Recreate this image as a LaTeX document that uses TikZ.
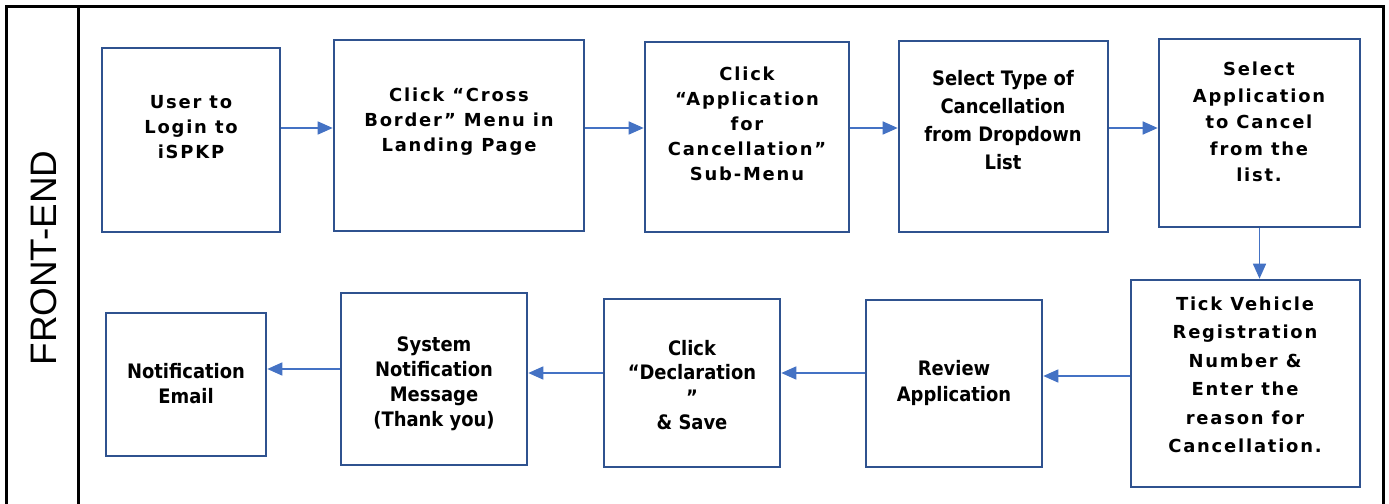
\documentclass[tikz,border=0pt]{standalone}
\usepackage{fontspec}
\usetikzlibrary{arrows.meta}
\newfontfamily\widefont[LetterSpace=10]{DejaVu Sans}
\newfontfamily\condfont{DejaVu Sans Condensed}
\newfontfamily\lanefont{Liberation Sans}
\definecolor{boxblue}{RGB}{47,82,143}
\definecolor{arrblue}{RGB}{68,114,196}
\tikzset{
  box/.style={draw=boxblue, line width=2.6bp, fill=white, inner sep=0pt},
  wtext/.style={align=center, text=black, inner sep=0pt, font={\widefont\bfseries\fontsize{18}{25}\selectfont}},
  ctext/.style={align=center, text=black, inner sep=0pt, font={\condfont\bfseries\fontsize{20}{25}\selectfont}},
  arr/.style={draw=arrblue, line width=1.6bp, -{Triangle[length=15bp,width=13bp]}},
  frame/.style={draw=black, line width=3bp}
}
\begin{document}
\begin{tikzpicture}[x=1bp,y=-1bp]
\useasboundingbox (0,0) rectangle (1389,504);
% frame
\coordinate (tl) at (6,7);
\coordinate (tr) at (1383,7);
\coordinate (bl) at (6,506);
\coordinate (br) at (1383,506);
\coordinate (dt) at (78,7);
\coordinate (db) at (78,506);
\draw[frame] (bl) -- (tl) -- (tr) -- (br);
\draw[frame] (dt) -- (db);
\node[rotate=90, font={\lanefont\fontsize{37}{40}\selectfont}] (lane) at (44,258) {FRONT-END};
% boxes row 1
\node[box, minimum width=178bp, minimum height=184bp] (b1) at (191,140) {};
\node[box, minimum width=250bp, minimum height=191bp] (b2) at (459,135.5) {};
\node[box, minimum width=204bp, minimum height=190bp] (b3) at (747,137) {};
\node[box, minimum width=209bp, minimum height=191bp] (b4) at (1003.5,136.5) {};
\node[box, minimum width=201bp, minimum height=188bp] (b5) at (1259.5,133) {};
% boxes row 2
\node[box, minimum width=229bp, minimum height=207bp] (b6) at (1245.5,383.5) {};
\node[box, minimum width=176bp, minimum height=167bp] (b7) at (954,383.5) {};
\node[box, minimum width=176bp, minimum height=168bp] (b8) at (692,383) {};
\node[box, minimum width=186bp, minimum height=172bp] (b9) at (434,379) {};
\node[box, minimum width=160bp, minimum height=143bp] (b10) at (186,384.5) {};
% texts
\node[wtext] (t1) at (191,127) {User to\\Login to\\iSPKP};
\node[wtext] (t2) at (459,122) {Click “Cross\\Border” Menu in\\Landing Page};
\node[wtext] (t3) at (747,124) {Click\\“Application\\for\\Cancellation”\\Sub-Menu};
\node[ctext, font={\condfont\bfseries\fontsize{20}{28}\selectfont}] (t4) at (1003,120) {Select Type of\\Cancellation\\from Dropdown\\List};
\node[wtext, font={\widefont\bfseries\fontsize{18}{26.5}\selectfont}] (t5) at (1259,122) {Select\\Application\\to Cancel\\from the\\list.};
\node[wtext, font={\widefont\bfseries\fontsize{18}{28.6}\selectfont}] (t6) at (1245,375) {Tick Vehicle\\Registration\\Number \&\\Enter the\\reason for\\Cancellation.};
\node[ctext, font={\condfont\bfseries\fontsize{20}{26}\selectfont}] (t7) at (954,383) {Review\\Application};
\node[ctext] (t8) at (692,385) {Click\\“Declaration\\”\\\& Save};
\node[ctext] (t9) at (434,384) {System\\Notification\\Message\\(Thank you)};
\node[ctext] (t10) at (186,384) {Notification\\Email};
% arrow rows
\coordinate (r1) at (0,128);
\coordinate (r67) at (0,376);
\coordinate (r78) at (0,373);
\coordinate (r89) at (0,373);
\coordinate (r910) at (0,369);
\draw[arr] (b1.east |- r1) -- (b2.west |- r1);
\draw[arr] (b2.east |- r1) -- (b3.west |- r1);
\draw[arr] (b3.east |- r1) -- (b4.west |- r1);
\draw[arr] (b4.east |- r1) -- (b5.west |- r1);
\draw[arr] (b5.south) -- (b5.south |- b6.north);
\draw[arr] (b6.west |- r67) -- (b7.east |- r67);
\draw[arr] (b7.west |- r78) -- (b8.east |- r78);
\draw[arr] (b8.west |- r89) -- (b9.east |- r89);
\draw[arr] (b9.west |- r910) -- (b10.east |- r910);
\end{tikzpicture}
\end{document}
